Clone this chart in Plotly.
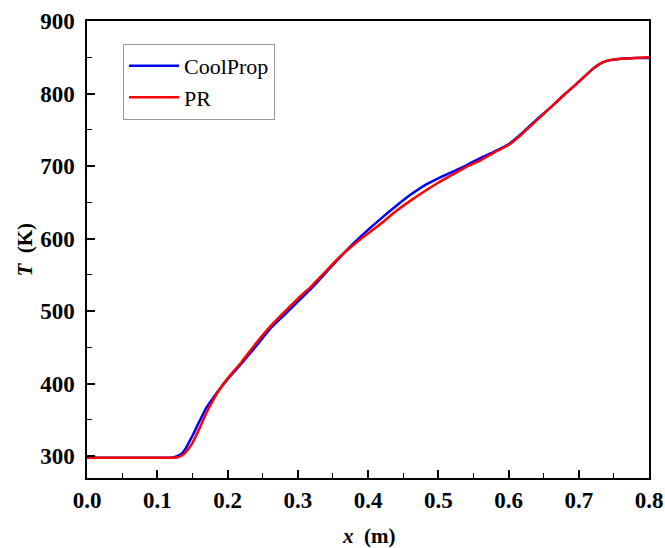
import plotly.graph_objects as go

x_vals = [0.0, 0.05, 0.10, 0.12, 0.125, 0.13, 0.135, 0.14, 0.15, 0.16, 0.17, 0.18, 0.19, 0.20,
          0.22, 0.24, 0.26, 0.28, 0.30, 0.32, 0.34, 0.36, 0.38, 0.40, 0.42, 0.44, 0.46, 0.48,
          0.50, 0.52, 0.54, 0.56, 0.58, 0.60, 0.62, 0.64, 0.66, 0.68, 0.70, 0.72, 0.73, 0.74,
          0.76, 0.78, 0.80]

T_coolprop = [298, 298, 298, 298, 299, 301, 304, 310, 328, 348, 367, 381, 394, 406,
              428, 451, 475, 494, 513, 532, 553, 574, 594, 612, 629, 645, 660, 673,
              683, 692, 701, 711, 720, 730, 746, 764, 781, 799, 816, 834, 841, 845,
              848, 849, 849]

T_pr = [298, 298, 298, 298, 298, 299, 301, 305, 318, 338, 360, 378, 394, 407,
        430, 455, 478, 498, 517, 535, 555, 575, 592, 607, 622, 638, 652, 665,
        677, 688, 699, 708, 719, 729, 745, 763, 781, 799, 816, 834, 841, 845,
        848, 849, 850]

x_ticks = [0.0, 0.1, 0.2, 0.3, 0.4, 0.5, 0.6, 0.7, 0.8]
y_ticks = [300, 400, 500, 600, 700, 800, 900]

serif = "Liberation Serif"

fig = go.Figure()
fig.add_trace(go.Scatter(x=x_vals, y=T_coolprop, mode="lines", name="CoolProp",
                         line=dict(color="#0000FF", width=2.5, shape="spline", smoothing=0.6)))
fig.add_trace(go.Scatter(x=x_vals, y=T_pr, mode="lines", name="PR",
                         line=dict(color="#FF0000", width=2.5, shape="spline", smoothing=0.6)))

axis_common = dict(
    showline=True, linecolor="black", linewidth=2, mirror=True,
    ticks="inside", ticklen=8, tickwidth=1.5, tickcolor="black",
    showgrid=False, zeroline=False, automargin=False,
    tickfont=dict(family=serif, size=23, color="black", weight="bold"),
)

fig.update_xaxes(range=[0, 0.8], tickvals=x_ticks, ticktext=[f"{v:.1f}" for v in x_ticks],
                 minor=dict(dtick=0.05, tick0=0, ticks="inside", ticklen=5, tickcolor="black", tickwidth=1.2),
                 **axis_common)
fig.update_yaxes(range=[270, 900], tickvals=y_ticks, ticktext=[f"{v}\u00a0" for v in y_ticks],
                 minor=dict(dtick=50, tick0=0, ticks="inside", ticklen=5, tickcolor="black", tickwidth=1.2),
                 **axis_common)

title_font = dict(family=serif, size=21, color="black")
fig.add_annotation(text="<b><i>x</i>  (m)</b>", xref="paper", yref="paper",
                   x=0.5, y=-0.128, xanchor="center", yanchor="middle",
                   showarrow=False, font=title_font)
fig.add_annotation(text="<b><i>T</i>  (K)</b>", xref="paper", yref="paper",
                   x=-0.112, y=0.5, xanchor="center", yanchor="middle", textangle=-90,
                   showarrow=False, font=title_font)

fig.update_layout(
    width=665, height=548,
    margin=dict(l=87, r=16, t=21, b=70),
    paper_bgcolor="white", plot_bgcolor="white",
    legend=dict(x=0.064, y=0.95, xanchor="left", yanchor="top",
                bordercolor="#999999", borderwidth=1, bgcolor="white",
                font=dict(family=serif, size=22, color="black"),
                tracegroupgap=0, itemwidth=50),
    showlegend=True,
)

fig.write_html("out.html")
